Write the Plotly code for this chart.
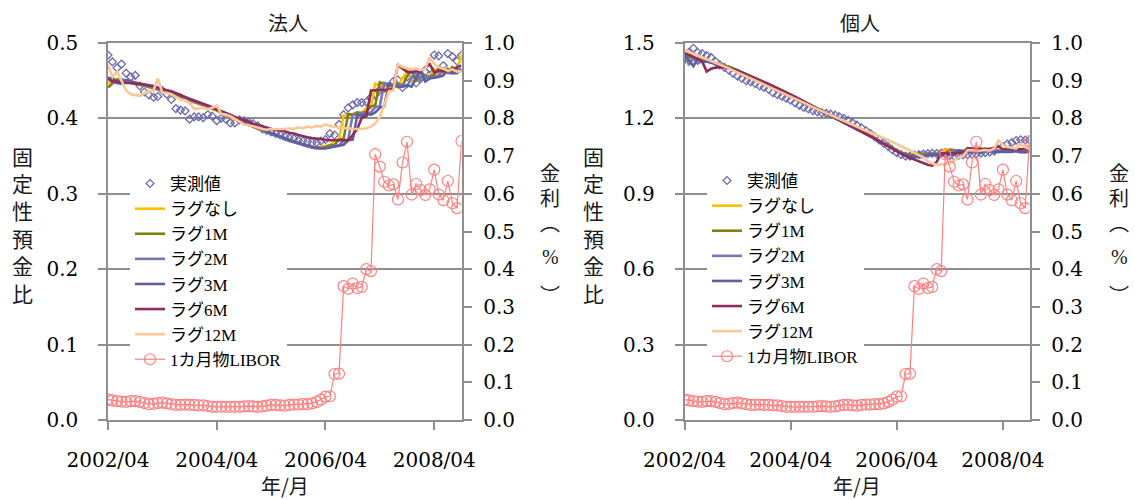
import pandas as pd
import plotly.graph_objects as go

# ---- data -------------------------------------------------------------
months = pd.date_range("2002-04-01", "2008-10-01", freq="MS").strftime("%Y-%m-%d").tolist()
tick_dates = ["2002-04-01", "2004-04-01", "2006-04-01", "2008-04-01"]
tick_text = ["2002/04", "2004/04", "2006/04", "2008/04"]

series_names = ["実測値", "ラグなし", "ラグ1M", "ラグ2M", "ラグ3M", "ラグ6M", "ラグ12M", "1カ月物LIBOR"]

# 1-month LIBOR (%)
libor = [
    0.054, 0.052, 0.050, 0.049, 0.048, 0.050, 0.050, 0.048, 0.045, 0.042,
    0.043, 0.045, 0.046, 0.044, 0.042, 0.040, 0.040, 0.041, 0.040, 0.040,
    0.039, 0.039, 0.037, 0.035, 0.035, 0.035, 0.035, 0.035, 0.035, 0.035,
    0.036, 0.037, 0.036, 0.035, 0.036, 0.038, 0.040, 0.040, 0.039, 0.038,
    0.040, 0.041, 0.041, 0.042, 0.042, 0.044, 0.048, 0.054, 0.062, 0.063,
    0.122, 0.123, 0.355, 0.348, 0.362, 0.350, 0.353, 0.400, 0.395, 0.705,
    0.672, 0.632, 0.622, 0.625, 0.585, 0.683, 0.738, 0.598, 0.626, 0.610,
    0.597, 0.612, 0.664, 0.598, 0.583, 0.634, 0.575, 0.562, 0.740,
]

# 法人: fixed-deposit ratio, observed and fitted with lags
corp_actual = [
    0.484, 0.475, 0.467, 0.472, 0.460, 0.455, 0.457, 0.443, 0.435, 0.431,
    0.428, 0.429, 0.437, 0.432, 0.425, 0.413, 0.411, 0.410, 0.399, 0.402,
    0.402, 0.401, 0.405, 0.403, 0.397, 0.400, 0.399, 0.394, 0.394, 0.398,
    0.397, 0.395, 0.393, 0.390, 0.386, 0.384, 0.382, 0.380, 0.378, 0.376,
    0.374, 0.373, 0.371, 0.370, 0.369, 0.368, 0.368, 0.370, 0.372, 0.380,
    0.378, 0.392, 0.405, 0.414, 0.418, 0.421, 0.421, 0.422, 0.428, 0.431,
    0.438, 0.440, 0.442, 0.449, 0.451, 0.441, 0.455, 0.457, 0.447, 0.458,
    0.462, 0.466, 0.484, 0.483, 0.470, 0.486, 0.482, 0.476, 0.484,
]
corp_lag0 = [
    0.446, 0.452, 0.451, 0.450, 0.448, 0.447, 0.446, 0.445, 0.443, 0.441,
    0.439, 0.438, 0.437, 0.436, 0.434, 0.431, 0.428, 0.426, 0.423, 0.421,
    0.419, 0.417, 0.415, 0.413, 0.410, 0.407, 0.404, 0.401, 0.399, 0.396,
    0.394, 0.391, 0.389, 0.386, 0.384, 0.382, 0.380, 0.377, 0.375, 0.373,
    0.371, 0.369, 0.367, 0.365, 0.363, 0.362, 0.361, 0.362, 0.364, 0.364,
    0.371, 0.372, 0.404, 0.403, 0.406, 0.405, 0.407, 0.414, 0.415, 0.446,
    0.444, 0.441, 0.442, 0.444, 0.441, 0.454, 0.462, 0.448, 0.453, 0.453,
    0.454, 0.456, 0.465, 0.459, 0.459, 0.466, 0.461, 0.462, 0.486,
]
corp_lag1 = [
    0.441, 0.446, 0.452, 0.450, 0.449, 0.447, 0.446, 0.445, 0.444, 0.442,
    0.440, 0.439, 0.438, 0.437, 0.435, 0.432, 0.429, 0.427, 0.424, 0.422,
    0.420, 0.418, 0.416, 0.413, 0.411, 0.408, 0.405, 0.402, 0.400, 0.397,
    0.395, 0.392, 0.390, 0.387, 0.385, 0.382, 0.380, 0.378, 0.375, 0.373,
    0.371, 0.369, 0.367, 0.365, 0.363, 0.362, 0.361, 0.361, 0.362, 0.364,
    0.365, 0.372, 0.373, 0.406, 0.405, 0.408, 0.407, 0.409, 0.416, 0.417,
    0.448, 0.446, 0.443, 0.444, 0.446, 0.443, 0.456, 0.464, 0.450, 0.455,
    0.455, 0.456, 0.458, 0.467, 0.461, 0.461, 0.468, 0.463, 0.464,
]
corp_lag2 = [
    0.455, 0.448, 0.447, 0.452, 0.450, 0.448, 0.447, 0.446, 0.444, 0.442,
    0.441, 0.439, 0.438, 0.437, 0.436, 0.433, 0.430, 0.428, 0.425, 0.422,
    0.420, 0.418, 0.416, 0.414, 0.411, 0.408, 0.405, 0.402, 0.400, 0.397,
    0.395, 0.392, 0.389, 0.387, 0.384, 0.382, 0.379, 0.377, 0.375, 0.372,
    0.370, 0.368, 0.366, 0.364, 0.362, 0.361, 0.360, 0.360, 0.361, 0.362,
    0.364, 0.364, 0.371, 0.372, 0.405, 0.404, 0.407, 0.406, 0.408, 0.415,
    0.416, 0.447, 0.445, 0.442, 0.443, 0.445, 0.442, 0.455, 0.463, 0.449,
    0.454, 0.454, 0.455, 0.457, 0.466, 0.460, 0.460, 0.467, 0.462,
]
corp_lag3 = [
    0.452, 0.454, 0.447, 0.446, 0.451, 0.449, 0.447, 0.446, 0.445, 0.443,
    0.441, 0.440, 0.439, 0.437, 0.436, 0.434, 0.431, 0.428, 0.426, 0.423,
    0.421, 0.419, 0.417, 0.414, 0.412, 0.409, 0.406, 0.403, 0.400, 0.398,
    0.395, 0.393, 0.390, 0.388, 0.385, 0.383, 0.380, 0.378, 0.376, 0.374,
    0.371, 0.369, 0.367, 0.365, 0.363, 0.362, 0.361, 0.360, 0.360, 0.361,
    0.362, 0.364, 0.365, 0.371, 0.372, 0.404, 0.404, 0.406, 0.405, 0.408,
    0.414, 0.416, 0.446, 0.444, 0.442, 0.442, 0.444, 0.442, 0.454, 0.462,
    0.449, 0.453, 0.454, 0.455, 0.457, 0.465, 0.460, 0.460, 0.466,
]
corp_lag6 = [
    0.453, 0.449, 0.449, 0.448, 0.447, 0.447, 0.446, 0.446, 0.445, 0.444,
    0.443, 0.441, 0.439, 0.437, 0.435, 0.433, 0.431, 0.428, 0.426, 0.423,
    0.421, 0.419, 0.417, 0.415, 0.412, 0.410, 0.407, 0.405, 0.402, 0.400,
    0.398, 0.396, 0.393, 0.391, 0.389, 0.387, 0.386, 0.385, 0.384, 0.383,
    0.381, 0.380, 0.378, 0.376, 0.375, 0.374, 0.373, 0.372, 0.372, 0.371,
    0.371, 0.371, 0.370, 0.371, 0.378, 0.386, 0.401, 0.403, 0.437, 0.437,
    0.437, 0.438, 0.438, 0.440, 0.471, 0.466, 0.462, 0.461, 0.463, 0.462,
    0.468, 0.472, 0.461, 0.463, 0.463, 0.463, 0.464, 0.468, 0.470,
]
corp_lag12 = [
    0.471, 0.455, 0.462, 0.450, 0.437, 0.432, 0.431, 0.430, 0.433, 0.436,
    0.437, 0.453, 0.434, 0.434, 0.432, 0.428, 0.425, 0.424, 0.420, 0.413,
    0.413, 0.414, 0.412, 0.414, 0.417, 0.406, 0.405, 0.403, 0.399, 0.395,
    0.392, 0.391, 0.390, 0.388, 0.386, 0.385, 0.386, 0.386, 0.385, 0.386,
    0.387, 0.386, 0.388, 0.387, 0.389, 0.388, 0.390, 0.389, 0.392, 0.390,
    0.389, 0.388, 0.387, 0.387, 0.386, 0.386, 0.386, 0.387, 0.389, 0.393,
    0.402, 0.418, 0.436, 0.437, 0.472, 0.468, 0.467, 0.465, 0.466, 0.464,
    0.466, 0.481, 0.472, 0.468, 0.466, 0.463, 0.465, 0.462, 0.463,
]

# 個人: fixed-deposit ratio, observed and fitted with lags
pers_actual = [
    1.448, 1.462, 1.479, 1.462, 1.458, 1.450, 1.443, 1.426, 1.413, 1.403,
    1.392, 1.380, 1.368, 1.359, 1.350, 1.345, 1.339, 1.329, 1.323, 1.316,
    1.302, 1.294, 1.287, 1.280, 1.272, 1.262, 1.252, 1.244, 1.238, 1.231,
    1.226, 1.222, 1.220, 1.217, 1.213, 1.207, 1.200, 1.192, 1.183, 1.173,
    1.163, 1.152, 1.140, 1.127, 1.114, 1.101, 1.088, 1.076, 1.064, 1.056,
    1.050, 1.050, 1.054, 1.056, 1.058, 1.060, 1.061, 1.060, 1.062, 1.058,
    1.052, 1.050, 1.053, 1.055, 1.056, 1.058, 1.060, 1.062, 1.064, 1.066,
    1.070, 1.078, 1.088, 1.098, 1.104, 1.112, 1.115, 1.114, 1.113,
]
pers_lag0 = [
    1.455, 1.432, 1.445, 1.436, 1.432, 1.428, 1.423, 1.418, 1.414, 1.410,
    1.405, 1.398, 1.390, 1.382, 1.374, 1.366, 1.358, 1.350, 1.342, 1.334,
    1.326, 1.318, 1.309, 1.300, 1.291, 1.282, 1.273, 1.264, 1.256, 1.247,
    1.238, 1.230, 1.221, 1.212, 1.203, 1.194, 1.186, 1.177, 1.168, 1.159,
    1.150, 1.141, 1.131, 1.121, 1.111, 1.101, 1.091, 1.081, 1.072, 1.063,
    1.058, 1.054, 1.060, 1.058, 1.059, 1.058, 1.058, 1.060, 1.059, 1.075,
    1.073, 1.070, 1.069, 1.069, 1.066, 1.074, 1.080, 1.068, 1.071, 1.070,
    1.069, 1.070, 1.076, 1.069, 1.068, 1.072, 1.067, 1.066, 1.092,
]
pers_lag1 = [
    1.420, 1.448, 1.438, 1.437, 1.432, 1.429, 1.424, 1.419, 1.415, 1.411,
    1.406, 1.400, 1.392, 1.384, 1.376, 1.368, 1.360, 1.352, 1.344, 1.336,
    1.328, 1.319, 1.311, 1.302, 1.293, 1.284, 1.275, 1.266, 1.257, 1.248,
    1.240, 1.231, 1.222, 1.213, 1.204, 1.195, 1.187, 1.178, 1.169, 1.160,
    1.151, 1.142, 1.132, 1.122, 1.112, 1.102, 1.092, 1.082, 1.073, 1.064,
    1.058, 1.056, 1.053, 1.061, 1.059, 1.060, 1.059, 1.059, 1.061, 1.060,
    1.076, 1.074, 1.071, 1.070, 1.070, 1.067, 1.075, 1.081, 1.069, 1.072,
    1.071, 1.070, 1.071, 1.077, 1.070, 1.069, 1.073, 1.068, 1.067,
]
pers_lag2 = [
    1.462, 1.412, 1.440, 1.418, 1.430, 1.427, 1.422, 1.418, 1.413, 1.409,
    1.404, 1.398, 1.391, 1.383, 1.375, 1.367, 1.359, 1.351, 1.343, 1.335,
    1.327, 1.318, 1.310, 1.301, 1.292, 1.283, 1.274, 1.265, 1.256, 1.247,
    1.239, 1.230, 1.221, 1.212, 1.203, 1.194, 1.186, 1.177, 1.168, 1.159,
    1.150, 1.140, 1.130, 1.120, 1.110, 1.100, 1.090, 1.080, 1.071, 1.062,
    1.056, 1.052, 1.051, 1.049, 1.058, 1.056, 1.057, 1.056, 1.056, 1.058,
    1.057, 1.073, 1.071, 1.068, 1.067, 1.067, 1.064, 1.072, 1.078, 1.066,
    1.069, 1.068, 1.067, 1.068, 1.074, 1.067, 1.066, 1.070, 1.065,
]
pers_lag3 = [
    1.455, 1.430, 1.408, 1.438, 1.425, 1.426, 1.421, 1.417, 1.412, 1.408,
    1.403, 1.397, 1.390, 1.382, 1.374, 1.366, 1.358, 1.350, 1.342, 1.334,
    1.326, 1.317, 1.309, 1.300, 1.291, 1.282, 1.273, 1.264, 1.255, 1.246,
    1.238, 1.229, 1.220, 1.211, 1.202, 1.193, 1.185, 1.176, 1.167, 1.158,
    1.149, 1.139, 1.129, 1.119, 1.109, 1.099, 1.089, 1.079, 1.070, 1.061,
    1.055, 1.050, 1.048, 1.047, 1.046, 1.056, 1.055, 1.056, 1.055, 1.055,
    1.057, 1.056, 1.072, 1.070, 1.067, 1.066, 1.066, 1.063, 1.071, 1.077,
    1.065, 1.068, 1.067, 1.066, 1.067, 1.073, 1.066, 1.065, 1.069,
]
pers_lag6 = [
    1.462, 1.452, 1.445, 1.436, 1.426, 1.386, 1.398, 1.402, 1.404, 1.403,
    1.400, 1.396, 1.390, 1.383, 1.376, 1.369, 1.361, 1.353, 1.345, 1.337,
    1.329, 1.321, 1.313, 1.304, 1.295, 1.286, 1.277, 1.268, 1.259, 1.250,
    1.241, 1.232, 1.223, 1.214, 1.205, 1.196, 1.187, 1.178, 1.168, 1.158,
    1.148, 1.138, 1.128, 1.118, 1.108, 1.098, 1.088, 1.078, 1.068, 1.058,
    1.050, 1.043, 1.036, 1.029, 1.022, 1.016, 1.012, 1.027, 1.062, 1.061,
    1.060, 1.062, 1.062, 1.064, 1.082, 1.080, 1.077, 1.077, 1.079, 1.078,
    1.083, 1.088, 1.078, 1.078, 1.077, 1.076, 1.077, 1.079, 1.078,
]
pers_lag12 = [
    1.470, 1.465, 1.458, 1.450, 1.443, 1.436, 1.428, 1.420, 1.413, 1.406,
    1.399, 1.391, 1.383, 1.375, 1.367, 1.359, 1.351, 1.343, 1.335, 1.327,
    1.318, 1.310, 1.302, 1.294, 1.286, 1.278, 1.270, 1.262, 1.254, 1.245,
    1.237, 1.229, 1.221, 1.213, 1.205, 1.197, 1.189, 1.181, 1.173, 1.165,
    1.158, 1.151, 1.144, 1.137, 1.130, 1.122, 1.114, 1.106, 1.098, 1.090,
    1.082, 1.073, 1.063, 1.054, 1.045, 1.030, 1.020, 1.016, 1.016, 1.018,
    1.020, 1.032, 1.045, 1.049, 1.074, 1.073, 1.071, 1.072, 1.074, 1.072,
    1.080, 1.112, 1.095, 1.086, 1.084, 1.080, 1.098, 1.086, 1.078,
]

# ---- styling ----------------------------------------------------------
W, H = 1135, 500
GRAY = "#8e8e8e"
LINE_COLORS = ["#FFC000", "#7F7F10", "#7676B8", "#5E5EA2", "#8E2C5C", "#FCC796"]
ACTUAL_COLOR = "#6C6CAE"
LIBOR_COLOR = "#FF8080"
SERIF = "DejaVu Serif"
LEGEND_FONT = "Liberation Serif, Noto Sans CJK JP"
CJK = "Noto Sans CJK JP"


def fx(p):
    return p / W


def fy(p):
    return 1 - p / H


fig = go.Figure()


def add_panel(actual, lags, xa, ya, ya2, legend_id):
    fig.add_trace(go.Scatter(
        x=months, y=actual, name=series_names[0], mode="markers",
        marker=dict(symbol="diamond-open", size=6, color=ACTUAL_COLOR,
                    line=dict(width=1.3, color=ACTUAL_COLOR)),
        xaxis=xa, yaxis=ya, legend=legend_id))
    for name, vals, col in zip(series_names[1:7], lags, LINE_COLORS):
        fig.add_trace(go.Scatter(
            x=months, y=vals, name=name, mode="lines",
            line=dict(color=col, width=2.6),
            xaxis=xa, yaxis=ya, legend=legend_id))
    fig.add_trace(go.Scatter(
        x=months, y=libor, name=series_names[7], mode="lines+markers",
        line=dict(color=LIBOR_COLOR, width=1.2),
        marker=dict(symbol="circle-open", size=11, color=LIBOR_COLOR,
                    line=dict(width=1.2, color=LIBOR_COLOR)),
        xaxis=xa, yaxis=ya2, legend=legend_id))


add_panel(corp_actual,
          [corp_lag0, corp_lag1, corp_lag2, corp_lag3, corp_lag6, corp_lag12],
          "x", "y", "y2", "legend")
add_panel(pers_actual,
          [pers_lag0, pers_lag1, pers_lag2, pers_lag3, pers_lag6, pers_lag12],
          "x2", "y3", "y4", "legend2")

tickfont = dict(family=SERIF, size=20, color="black")
common_line = dict(showline=True, linecolor=GRAY, linewidth=1.5,
                   ticks="outside", tickcolor=GRAY, tickwidth=1.5,
                   zeroline=False, tickfont=tickfont, automargin=False)

xaxis_base = dict(common_line, type="date", range=[months[0], months[-1]],
                  tickmode="array", tickvals=tick_dates, ticktext=tick_text,
                  ticklen=8, showgrid=False, mirror=True, ticklabelstandoff=13)
y_left_base = dict(common_line, ticklen=8, showgrid=True, gridcolor=GRAY,
                   gridwidth=1.5, tickformat=".1f", tick0=0,
                   ticklabelstandoff=16)
y_right_base = dict(common_line, ticklen=9, showgrid=False, side="right",
                    range=[0, 1.0], dtick=0.1, tick0=0, tickformat=".1f",
                    ticklabelstandoff=7)

y_dom = [fy(420), fy(43)]
legend_style = dict(xanchor="left", yanchor="top", bgcolor="white",
                    borderwidth=0, tracegroupgap=0,
                    font=dict(family=LEGEND_FONT, size=17, color="black"))
fig.update_layout(
    width=W, height=H,
    margin=dict(l=0, r=0, t=0, b=0, autoexpand=False),
    paper_bgcolor="white", plot_bgcolor="white",
    xaxis=dict(xaxis_base, domain=[fx(108), fx(461.5)], anchor="y"),
    yaxis=dict(y_left_base, domain=y_dom, range=[0, 0.5], dtick=0.1, anchor="x"),
    yaxis2=dict(y_right_base, overlaying="y", anchor="x"),
    xaxis2=dict(xaxis_base, domain=[fx(684.5), fx(1029.5)], anchor="y3"),
    yaxis3=dict(y_left_base, domain=y_dom, range=[0, 1.5], dtick=0.3, anchor="x2"),
    yaxis4=dict(y_right_base, overlaying="y3", anchor="x2"),
    legend=dict(legend_style, x=fx(130), y=fy(166)),
    legend2=dict(legend_style, x=fx(707), y=fy(163)),
    showlegend=True,
)

# ---- titles -----------------------------------------------------------
def label(text, x, y, size=20, family=CJK, box_h=None):
    fig.add_annotation(text=text, x=fx(x), y=fy(y), xref="paper", yref="paper",
                       showarrow=False, xanchor="center", yanchor="middle",
                       height=box_h, borderpad=0 if box_h else 1,
                       font=dict(family=family, size=size, color="#1a1a1a"))


label("法人", 288, 22)
label("個人", 860, 22)
label("年/月", 285, 485)
label("年/月", 857, 485)

# vertical axis titles, one character per line
ratio_chars = list("固定性預金比")
ratio_rows = [156, 183, 210, 238, 265, 293]
rate_chars = ["金", "利", "︵", "%", "︶"]
rate_rows = [172, 197, 222, 257, 294]
for x_pos in (22, 593):
    for ch, yy in zip(ratio_chars, ratio_rows):
        label(ch, x_pos, yy, size=21, box_h=26)
for x_pos in (550, 1119):
    for ch, yy in zip(rate_chars, rate_rows):
        label(ch, x_pos, yy, size=20, box_h=24,
              family=("Liberation Serif" if ch == "%" else CJK))

fig.write_html("out.html")
